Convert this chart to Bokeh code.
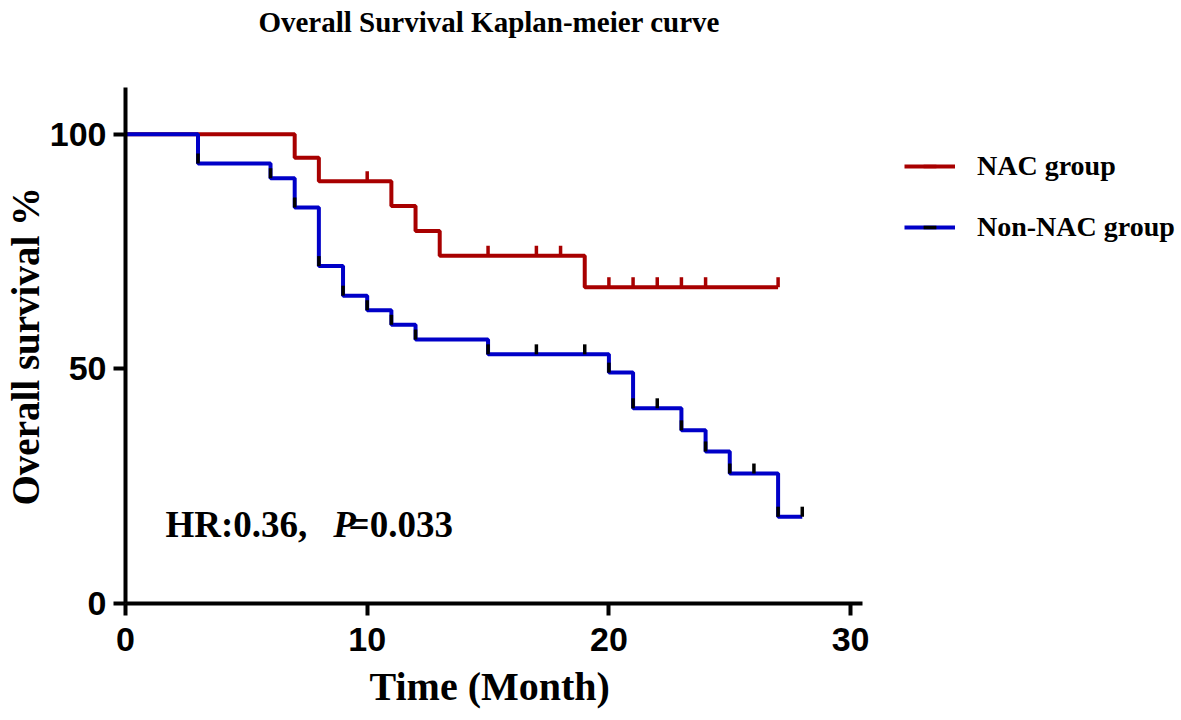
from bokeh.plotting import figure
from bokeh.models import Range1d, FixedTicker, Legend, LegendItem, Label, Title
from bokeh.embed import file_html
from bokeh.resources import INLINE
import numpy as np

# ---------------- data ----------------
title_text = "Overall Survival Kaplan-meier curve"
x_label = "Time (Month)"
y_label = "Overall survival %"
series_names = ["NAC group", "Non-NAC group"]
x_ticks = [0, 10, 20, 30]
y_ticks = [0, 50, 100]

nac_time = [0, 7, 8, 11, 12, 13, 19, 27]
nac_surv = [100, 95.0, 90.0, 84.7, 79.4, 74.1, 67.4, 67.4]
nac_censor = [10, 15, 17, 18, 20, 21, 22, 23, 24, 27]

non_time = [0, 3, 6, 7, 8, 9, 10, 11, 12, 15, 20, 21, 23, 24, 25, 27, 28]
non_surv = [100, 93.75, 90.6, 84.4, 71.9, 65.6, 62.5, 59.4, 56.25, 53.1, 49.2, 41.6, 36.9, 32.4, 27.7, 18.5, 18.5]
non_censor = [3, 6, 7, 8, 9, 10, 11, 12, 15, 17, 19, 20, 21, 22, 23, 24, 25, 26, 27, 28]

hr_text = "HR:0.36,"
p_symbol = "P"
p_value = "=0.033"

# ---------------- style ----------------
RED = "#A80000"
BLUE = "#0000C8"
SERIF = "Liberation Serif"
SANS = "Liberation Sans"
W, H = 1181, 720
PX_PER_Y = 4.70
TICK_PX = 10


def surv_at(times, surv, t):
    idx = np.searchsorted(np.asarray(times), np.asarray(t), side="right") - 1
    return np.asarray(surv)[idx]


p = figure(width=W, height=H, output_backend="svg", toolbar_location=None,
           x_range=Range1d(0, 43.69), y_range=Range1d(0, 128.5),
           min_border_left=125, min_border_right=0, min_border_top=0, min_border_bottom=116)
p.background_fill_color = "white"
p.border_fill_color = "white"
p.outline_line_color = None
p.xgrid.visible = False
p.ygrid.visible = False

for ax in (p.xaxis, p.yaxis):
    ax.axis_line_width = 4
    ax.axis_line_color = "black"
    ax.major_tick_line_width = 4
    ax.major_tick_line_color = "black"
    ax.major_tick_out = 12
    ax.major_tick_in = 0
    ax.minor_tick_line_color = None
    ax.major_label_text_font = SANS
    ax.major_label_text_font_style = "bold"
    ax.major_label_text_font_size = "34px"
    ax.major_label_text_color = "black"

p.xaxis.ticker = FixedTicker(ticks=x_ticks)
p.yaxis.ticker = FixedTicker(ticks=y_ticks)
p.xaxis.bounds = (0, 30.5)
p.yaxis.bounds = (0, 110)
p.xaxis.major_label_standoff = 12
p.yaxis.major_label_standoff = 7

axis_title_style = dict(text_font=SERIF, text_font_style="bold", text_color="black")
# y-axis title: rotated side title, positioned along the 0-110 span
p.add_layout(Title(text=y_label, align="left", offset=98, vertical_align="bottom", standoff=0,
                   text_font_size="39px", **axis_title_style), "left")
# x-axis title, positioned under the 0-30 axis span
p.add_layout(Title(text=x_label, align="left", offset=244, vertical_align="top", standoff=20,
                   text_font_size="40px", **axis_title_style), "below")

# chart title (inside the tall frame, above the y-axis end)
p.add_layout(Label(x=5.5, y=124.0, text=title_text, text_align="left", text_baseline="middle",
                   text_font=SERIF, text_font_size="29px", text_font_style="bold",
                   text_color="black"))

# ---------------- curves ----------------
r_nac = p.step(nac_time, nac_surv, mode="after", line_width=4, line_color=RED)
r_non = p.step(non_time, non_surv, mode="after", line_width=4, line_color=BLUE)

off = TICK_PX / 2 / PX_PER_Y
c_nac = p.scatter(nac_censor, surv_at(nac_time, nac_surv, nac_censor) + off, marker="dash",
                  angle=np.pi / 2, size=TICK_PX, line_width=3.5, line_color=RED)
c_non = p.scatter(non_censor, surv_at(non_time, non_surv, non_censor) + off, marker="dash",
                  angle=np.pi / 2, size=TICK_PX, line_width=3.5, line_color="black")

legend = Legend(items=[LegendItem(label=series_names[0], renderers=[r_nac, c_nac]),
                       LegendItem(label=series_names[1], renderers=[r_non, c_non])],
                location=(779, 360), orientation="vertical",
                border_line_color=None, background_fill_alpha=0,
                padding=0, margin=0, spacing=29, glyph_width=51, glyph_height=32,
                label_height=32, label_standoff=22,
                label_text_font=SERIF, label_text_font_style="bold",
                label_text_font_size="28px", label_text_color="black")
p.add_layout(legend)

# ---------------- HR annotation ----------------
common = dict(y=16.8, text_font=SERIF, text_font_size="37px", text_color="black",
              text_baseline="middle")
p.add_layout(Label(x=1.65, text=hr_text, text_font_style="bold", **common))
p.add_layout(Label(x=8.6, text=p_symbol, text_font_style="bold italic", **common))
p.add_layout(Label(x=9.23, text=p_value, text_font_style="bold", **common))

open("out.html", "w").write(file_html(p, INLINE))
